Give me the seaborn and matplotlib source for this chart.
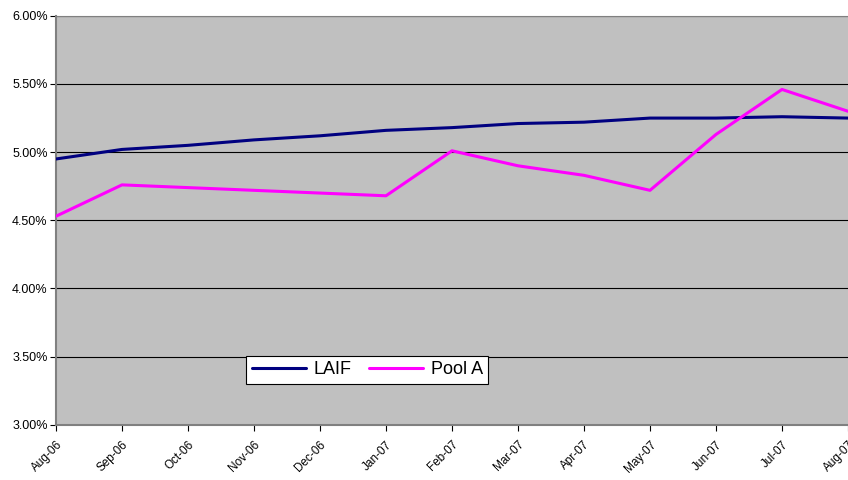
import matplotlib
matplotlib.use("Agg")
import matplotlib.pyplot as plt
import numpy as np
import pandas as pd
import seaborn as sns
from matplotlib.ticker import FuncFormatter

# Monthly yields (%)
months = ['Aug-06', 'Sep-06', 'Oct-06', 'Nov-06', 'Dec-06', 'Jan-07', 'Feb-07',
          'Mar-07', 'Apr-07', 'May-07', 'Jun-07', 'Jul-07', 'Aug-07']
laif = [4.95, 5.02, 5.05, 5.09, 5.12, 5.16, 5.18, 5.21, 5.22, 5.25, 5.25, 5.26, 5.25]
pool_a = [4.53, 4.76, 4.74, 4.72, 4.70, 4.68, 5.01, 4.90, 4.83, 4.72, 5.13, 5.46, 5.30]

sns.set_style("white")
plt.rcParams['font.family'] = ['Liberation Sans', 'DejaVu Sans']
plt.rcParams['text.color'] = 'black'
plt.rcParams['xtick.color'] = 'black'
plt.rcParams['ytick.color'] = 'black'

df = pd.DataFrame({
    'month': list(range(len(months))) * 2,
    'rate': laif + pool_a,
    'series': ['LAIF'] * len(months) + ['Pool A'] * len(months),
})

fig = plt.figure(figsize=(8.48, 4.8), dpi=100)
ax = fig.add_axes([0.066, 0.115, 0.934, 0.852])
ax.set_facecolor('#C0C0C0')

sns.lineplot(data=df, x='month', y='rate', hue='series',
             palette={'LAIF': '#000080', 'Pool A': '#FF00FF'},
             linewidth=2.2, ax=ax, zorder=3)

ax.set_xlim(0, len(months) - 1)
ax.set_ylim(3.0, 6.0)
ax.set_yticks(np.arange(3.0, 6.01, 0.5))
ax.yaxis.set_major_formatter(FuncFormatter(lambda v, p: f'{v:.2f}%'))
ax.set_xticks(range(len(months)))
ax.set_xticklabels(months, rotation=45, ha='right', rotation_mode='anchor', fontsize=8.5)
ax.tick_params(axis='y', labelsize=9, length=4, direction='out', left=True, color='black', pad=2)
ax.tick_params(axis='x', length=4, direction='out', bottom=True, color='black', pad=6)
ax.grid(axis='y', color='black', linewidth=0.8)
ax.set_axisbelow(True)
ax.set_xlabel('')
ax.set_ylabel('')

for side in ['left', 'bottom']:
    ax.spines[side].set_color('#808080')
    ax.spines[side].set_linewidth(1.5)
ax.spines['top'].set_color('#808080')
ax.spines['right'].set_visible(False)

leg = ax.legend(loc='center', bbox_to_anchor=(0.393, 0.134), ncol=2, fontsize=13,
                frameon=True, fancybox=False, edgecolor='black', framealpha=1,
                handlelength=3.0, columnspacing=1.0, borderpad=0.3, handletextpad=0.4)
leg.get_frame().set_linewidth(0.8)
leg.set_zorder(5)

fig.savefig('out.png', dpi=100)
